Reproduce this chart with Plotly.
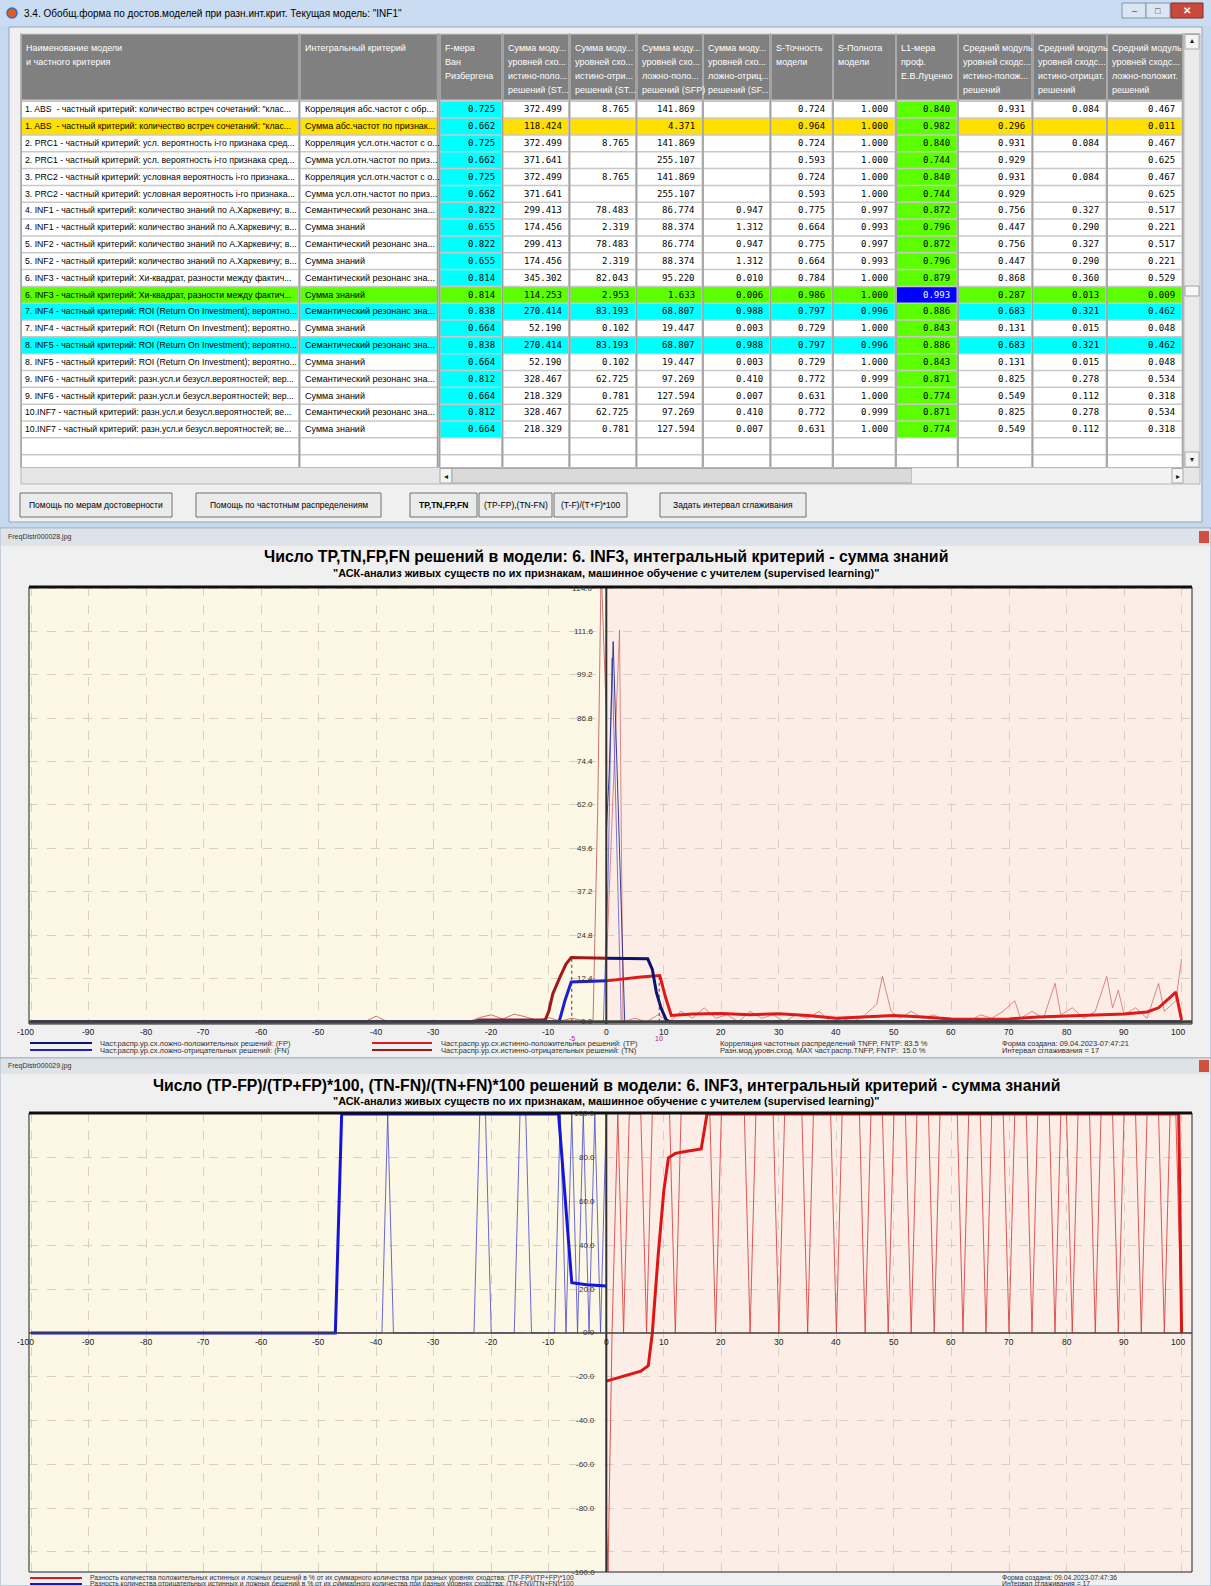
import plotly.graph_objects as go

W, H = 1211, 1586

# ---------------- TABLE DATA ----------------
window_title = '3.4. Обобщ.форма по достов.моделей при разн.инт.крит. Текущая модель: "INF1"'
col_headers = [
    ["Наименование модели", "и частного критерия"],
    ["Интегральный критерий"],
    ["F-мера", "Ван", "Ризбергена"],
    ["Сумма моду...", "уровней схо...", "истино-поло...", "решений (ST..."],
    ["Сумма моду...", "уровней схо...", "истино-отри...", "решений (ST..."],
    ["Сумма моду...", "уровней схо...", "ложно-поло...", "решений (SFP)"],
    ["Сумма моду...", "уровней схо...", "ложно-отриц...", "решений (SF..."],
    ["S-Точность", "модели"],
    ["S-Полнота", "модели"],
    ["L1-мера", "проф.", "Е.В.Луценко"],
    ["Средний модуль", "уровней сходс...", "истино-полож...", "решений"],
    ["Средний модуль", "уровней сходс...", "истино-отрицат.", "решений"],
    ["Средний модуль", "уровней сходс...", "ложно-положит.", "решений"],
]
model_names = [
    '1. ABS  - частный критерий: количество встреч сочетаний: "клас...',
    '1. ABS  - частный критерий: количество встреч сочетаний: "клас...',
    '2. PRC1 - частный критерий: усл. вероятность i-го признака сред...',
    '2. PRC1 - частный критерий: усл. вероятность i-го признака сред...',
    '3. PRC2 - частный критерий: условная вероятность i-го признака...',
    '3. PRC2 - частный критерий: условная вероятность i-го признака...',
    '4. INF1 - частный критерий: количество знаний по А.Харкевичу; в...',
    '4. INF1 - частный критерий: количество знаний по А.Харкевичу; в...',
    '5. INF2 - частный критерий: количество знаний по А.Харкевичу; в...',
    '5. INF2 - частный критерий: количество знаний по А.Харкевичу; в...',
    '6. INF3 - частный критерий: Хи-квадрат, разности между фактич...',
    '6. INF3 - частный критерий: Хи-квадрат, разности между фактич...',
    '7. INF4 - частный критерий: ROI (Return On Investment); вероятно...',
    '7. INF4 - частный критерий: ROI (Return On Investment); вероятно...',
    '8. INF5 - частный критерий: ROI (Return On Investment); вероятно...',
    '8. INF5 - частный критерий: ROI (Return On Investment); вероятно...',
    '9. INF6 - частный критерий: разн.усл.и безусл.вероятностей; вер...',
    '9. INF6 - частный критерий: разн.усл.и безусл.вероятностей; вер...',
    '10.INF7 - частный критерий: разн.усл.и безусл.вероятностей; ве...',
    '10.INF7 - частный критерий: разн.усл.и безусл.вероятностей; ве...',
]
criteria = [
    'Корреляция абс.частот с обр...', 'Сумма абс.частот по признак...',
    'Корреляция усл.отн.частот с о...', 'Сумма усл.отн.частот по приз...',
    'Корреляция усл.отн.частот с о...', 'Сумма усл.отн.частот по приз...',
    'Семантический резонанс зна...', 'Сумма знаний',
    'Семантический резонанс зна...', 'Сумма знаний',
    'Семантический резонанс зна...', 'Сумма знаний',
    'Семантический резонанс зна...', 'Сумма знаний',
    'Семантический резонанс зна...', 'Сумма знаний',
    'Семантический резонанс зна...', 'Сумма знаний',
    'Семантический резонанс зна...', 'Сумма знаний',
]
f_measure = [0.725, 0.662, 0.725, 0.662, 0.725, 0.662, 0.822, 0.655, 0.822, 0.655,
             0.814, 0.814, 0.838, 0.664, 0.838, 0.664, 0.812, 0.664, 0.812, 0.664]
sum_tp = [372.499, 118.424, 372.499, 371.641, 372.499, 371.641, 299.413, 174.456, 299.413, 174.456,
          345.302, 114.253, 270.414, 52.190, 270.414, 52.190, 328.467, 218.329, 328.467, 218.329]
sum_tn = [8.765, None, 8.765, None, 8.765, None, 78.483, 2.319, 78.483, 2.319,
          82.043, 2.953, 83.193, 0.102, 83.193, 0.102, 62.725, 0.781, 62.725, 0.781]
sum_fp = [141.869, 4.371, 141.869, 255.107, 141.869, 255.107, 86.774, 88.374, 86.774, 88.374,
          95.220, 1.633, 68.807, 19.447, 68.807, 19.447, 97.269, 127.594, 97.269, 127.594]
sum_fn = [None, None, None, None, None, None, 0.947, 1.312, 0.947, 1.312,
          0.010, 0.006, 0.988, 0.003, 0.988, 0.003, 0.410, 0.007, 0.410, 0.007]
s_precision = [0.724, 0.964, 0.724, 0.593, 0.724, 0.593, 0.775, 0.664, 0.775, 0.664,
               0.784, 0.986, 0.797, 0.729, 0.797, 0.729, 0.772, 0.631, 0.772, 0.631]
s_recall = [1.000, 1.000, 1.000, 1.000, 1.000, 1.000, 0.997, 0.993, 0.997, 0.993,
            1.000, 1.000, 0.996, 1.000, 0.996, 1.000, 0.999, 1.000, 0.999, 1.000]
l1_measure = [0.840, 0.982, 0.840, 0.744, 0.840, 0.744, 0.872, 0.796, 0.872, 0.796,
              0.879, 0.993, 0.886, 0.843, 0.886, 0.843, 0.871, 0.774, 0.871, 0.774]
mean_tp = [0.931, 0.296, 0.931, 0.929, 0.931, 0.929, 0.756, 0.447, 0.756, 0.447,
           0.868, 0.287, 0.683, 0.131, 0.683, 0.131, 0.825, 0.549, 0.825, 0.549]
mean_tn = [0.084, None, 0.084, None, 0.084, None, 0.327, 0.290, 0.327, 0.290,
           0.360, 0.013, 0.321, 0.015, 0.321, 0.015, 0.278, 0.112, 0.278, 0.112]
mean_fp = [0.467, 0.011, 0.467, 0.625, 0.467, 0.625, 0.517, 0.221, 0.517, 0.221,
           0.529, 0.009, 0.462, 0.048, 0.462, 0.048, 0.534, 0.318, 0.534, 0.318]
row_marks = ["", "yellow", "", "", "", "", "", "", "", "",
             "", "green", "cyan", "", "cyan", "", "", "", "", ""]
buttons = ["Помощь по мерам достоверности", "Помощь по частотным распределениям",
           "TP,TN,FP,FN", "(TP-FP),(TN-FN)", "(T-F)/(T+F)*100", "Задать интервал сглаживания"]

# ---------------- CHART 1 DATA ----------------
chart1_file = "FreqDistr000028.jpg"
chart1_title = "Число TP,TN,FP,FN решений в модели: 6. INF3, интегральный критерий - сумма знаний"
subtitle = '"АСК-анализ живых существ по их признакам, машинное обучение с учителем (supervised learning)"'
x_ticks = [-100, -90, -80, -70, -60, -50, -40, -30, -20, -10, 0, 10, 20, 30, 40, 50, 60, 70, 80, 90, 100]
c1_y_ticks = [0.0, 12.4, 24.8, 37.2, 49.6, 62.0, 74.4, 86.8, 99.2, 111.6, 124.0]

tn_raw_x = [-44, -42, -40, -38, -36, -24, -22, -20, -18, -16, -14, -12, -10, -8, -6, -4, -3, -2.3, -1.5, -0.9, 0]
tn_raw_y = [0, 0, 1.6, 0, 0, 0, 1.2, 2.0, 0.8, 2.2, 1.4, 0.4, 1.2, 0.2, 1.0, 0.3, 0.0, 0.5, 60, 130, 88]
tp_raw_x = [0, 1, 2.3, 2.9, 5, 7, 9, 11, 13, 15, 17, 19, 21, 23, 25, 27, 29, 31, 33, 35, 37, 39, 41, 43,
            45, 47, 48, 49.5, 51, 53, 55, 57, 59, 61, 63, 65, 67, 69, 71, 72, 74, 76, 78, 79, 81, 83,
            85, 87, 88, 89, 90, 92, 94, 96, 97, 99, 100]
tp_raw_y = [15.7, 60, 112, 0, 1, 0, 2, 0, 3, 1, 4, 1, 2, 0, 3, 1, 2, 0, 2, 1, 3, 0, 1, 0,
            2, 5, 13, 3, 1, 3, 1, 2, 0, 1, 0, 2, 1, 3, 6, 1, 3, 1, 11, 2, 4, 1,
            3, 13, 4, 9, 2, 4, 1, 11, 3, 6, 18]
fp_raw_x = [0, 0.5, 1.2, 3.2]
fp_raw_y = [54, 71, 108.7, 0]
fn_raw_x = [-0.5, 0.3, 1.0, 2.6]
fn_raw_y = [0, 40, 104, 0]

tn_smooth_x = [-100, -23, -22, -10.6, -10, -9.3, -8, -7, -6.1, 0]
tn_smooth_y = [0, 0, 0.5, 0.6, 3, 8, 13, 16.5, 18.4, 18.2]
fn_smooth_x = [-100, -8.2, -7.2, -6.1, 0]
fn_smooth_y = [0, 0, 6, 11.4, 11.7]
fp_smooth_x = [0, 7.2, 8.0, 8.7, 9.5, 10.4, 11, 100]
fp_smooth_y = [18.2, 18.0, 15, 8.5, 4, 0.6, 0, 0]
tp_smooth_x = [0, 3, 6, 9.3, 10.3, 11.3, 15, 20, 25, 30, 35, 40, 45, 50, 55, 60, 65, 70, 75, 80, 85,
               90, 94, 96, 98, 99, 100]
tp_smooth_y = [11.7, 12.3, 12.8, 13.2, 7, 1.8, 2.2, 2.4, 2.0, 2.3, 1.8, 1.0, 1.5, 1.8, 1.4, 0.8, 0.7,
               0.8, 1.4, 1.6, 1.8, 2.2, 2.8, 4, 7, 8.5, 0.5]
threshold_x = [-6, 9.2]
threshold_labels = ["-5", "10"]
threshold_top = [18.4, 13.2]

c1_legend_left = ["Част.распр.ур.сх.ложно-положительных решений: (FP)",
                  "Част.распр.ур.сх.ложно-отрицательных решений: (FN)"]
c1_legend_mid = ["Част.распр.ур.сх.истинно-положительных решений: (TP)",
                 "Част.распр.ур.сх.истинно-отрицательных решений: (TN)"]
c1_stats = ["Корреляция частотных распределений TNFP, FNTP: 83.5 %",
            "Разн.мод.уровн.сход. MAX част.распр.TNFP, FNTP:  15.0 %"]
c1_info = ["Форма создана: 09.04.2023-07:47:21", "Интервал сглаживания = 17"]

# ---------------- CHART 2 DATA ----------------
chart2_file = "FreqDistr000029.jpg"
chart2_title = "Число (TP-FP)/(TP+FP)*100, (TN-FN)/(TN+FN)*100 решений в модели: 6. INF3, интегральный критерий - сумма знаний"
c2_y_ticks = [100, 80, 60, 40, 20, 0, -20, -40, -60, -80]
c2_bottom_label = "-100.0"

tnfn_raw_x = [-100, -39, -38, -37, -23, -22, -21, -20, -16, -15, -14, -13, -9, -8, -7, -6, -5, -4, -3, -2, -1, 0]
tnfn_raw_y = [0, 0, 100, 0, 0, 100, 100, 0, 0, 100, 100, 0, 0, 100, 0, 100, 0, 100, 0, 100, 0, 100]
tnfn_smooth_x = [-100, -47.1, -46, -8.3, -6.0, -3.4, 0]
tnfn_smooth_y = [0, 0, 100, 100, 22.9, 22, 21.4]
tpfp_raw_x = [0, 0.3, 1, 2, 3, 4, 6, 7, 8, 11, 12, 13, 18, 19, 20, 24, 25, 26, 29, 30, 31, 34, 35, 36,
              39, 40, 41, 44, 45, 46, 48, 49, 50, 52, 53, 54, 56, 57, 58, 61, 62, 63, 65, 66, 67, 69, 70, 71,
              73, 74, 75, 77, 78, 79, 80, 81, 82, 84, 85, 86, 88, 89, 90, 92, 93, 94, 96, 97, 98, 99, 100]
tpfp_raw_y = [-85, -109, 0, 100, 0, 100, 100, 0, 100, 100, 0, 100, 100, 0, 100, 100, 0, 100, 100, 0, 100, 100, 0, 100,
              100, 0, 100, 100, 0, 100, 100, 0, 100, 100, 0, 100, 100, 0, 100, 100, 0, 100, 100, 0, 100, 100, 0, 100,
              100, 0, 100, 100, 0, 100, 100, 0, 100, 100, 0, 100, 100, 0, 100, 100, 0, 100, 100, 0, 100, 100, 0]
tpfp_smooth_x = [0, 2, 4, 6, 7.3, 8, 9, 10, 10.8, 12, 14, 16.5, 17.5, 99.5, 100]
tpfp_smooth_y = [-22, -20.5, -19, -17.5, -15, 0, 35, 65, 80, 82, 83, 84, 100, 100, 0]

c2_legend = ["Разность количества положительных истинных и ложных решений в % от их суммарного количества при разных уровнях сходства: (TP-FP)/(TP+FP)*100",
             "Разность количества отрицательных истинных и ложных решений в % от их суммарного количества при разных уровнях сходства: (TN-FN)/(TN+FN)*100"]
c2_info = ["Форма создана: 09.04.2023-07:47:36", "Интервал сглаживания = 17"]

# ---------------- HELPERS ----------------
shapes = []
annots = []
SANS = "Liberation Sans, Arial, sans-serif"
MONO = "DejaVu Sans Mono, monospace"


def fx(x):
    return x / W


def fy(y):
    return 1 - y / H


def rect(x0, y0, x1, y1, fill, line=None, lw=0):
    shapes.append(dict(type="rect", xref="paper", yref="paper", x0=fx(x0), x1=fx(x1),
                       y0=fy(y1), y1=fy(y0), fillcolor=fill,
                       line=dict(color=line if line else fill, width=lw), layer="below"))


def seg(x0, y0, x1, y1, color, lw=1, dash="solid"):
    shapes.append(dict(type="line", xref="paper", yref="paper", x0=fx(x0), x1=fx(x1),
                       y0=fy(y0), y1=fy(y1), line=dict(color=color, width=lw, dash=dash), layer="below"))


def text(x, y, s, size=9, color="black", anchor="left", family=SANS, bold=False):
    if bold:
        s = "<b>" + s + "</b>"
    annots.append(dict(xref="paper", yref="paper", x=fx(x), y=fy(y), text=s, showarrow=False,
                       xanchor=anchor, yanchor="middle", font=dict(size=size, color=color, family=family)))


# ---------------- WINDOW 1 (table dialog) ----------------
rect(0, 0, W, 528, "#C5D8EE")
rect(0, 0, W, 26, "#C9DCF1")
rect(9, 27, 1202, 522, "#F0F0F0", "#8EA6C2", 1)
shapes.append(dict(type="circle", xref="paper", yref="paper", x0=fx(7), x1=fx(17), y0=fy(18), y1=fy(8),
                   fillcolor="#E25C1A", line=dict(color="#2A6FD0", width=1.5), layer="below"))
text(22, 13, window_title, size=10)
rect(1122, 3, 1146, 18, "#DCE6F2", "#8094B0", 1)
rect(1146, 3, 1170, 18, "#DCE6F2", "#8094B0", 1)
rect(1171, 3, 1203, 18, "#C94A3C", "#8A2A20", 1)
text(1134, 11, "–", size=9, color="#404040", anchor="center")
text(1158, 11, "□", size=9, color="#404040", anchor="center")
text(1187, 11, "✕", size=10, color="white", anchor="center", bold=True)

col_edges = [21, 299.5, 439.5, 502.5, 569.5, 636.5, 703, 770.5, 833, 896, 958, 1032.5, 1107, 1183]
header_top, header_bot = 33.5, 100.5
row_top0, row_h = 101.0, 16.83
n_rows = len(model_names)
table_bottom = 467.5

rect(col_edges[0], header_top, col_edges[-1], table_bottom, "#C8C8C8")
for j in range(len(col_edges) - 1):
    x0, x1 = col_edges[j], col_edges[j + 1]
    rect(x0 + 1, header_top + 1, x1 - 1, header_bot - 1, "#808080")
    for k, line in enumerate(col_headers[j]):
        text(x0 + 3, 47.5 + k * 14.2, line, size=9.0, color="white")

colors = {"": "#FFFFFF", "yellow": "#FFE000", "green": "#5CFF00", "cyan": "#00FFFF"}
num_cols = [f_measure, sum_tp, sum_tn, sum_fp, sum_fn, s_precision, s_recall, l1_measure,
            mean_tp, mean_tn, mean_fp]
for i in range(n_rows):
    top = row_top0 + i * row_h
    bot = top + row_h
    yc = top + row_h / 2
    base = colors[row_marks[i]]
    for j in range(len(col_edges) - 1):
        x0, x1 = col_edges[j], col_edges[j + 1]
        fill = base
        tcol = "black"
        if j == 2:
            fill = colors["green"] if row_marks[i] == "green" else colors["cyan"]
        if j == 9:
            if row_marks[i] == "green":
                fill, tcol = "#0000FF", "white"
            else:
                fill = colors["green"]
        rect(x0 + 1, top + 1, x1 - 1.5, bot - 0.5, fill)
        if j == 0:
            text(x0 + 2, yc, model_names[i], size=8.7)
        elif j == 1:
            text(x0 + 3, yc, criteria[i], size=9.0)
        else:
            v = num_cols[j - 2][i]
            if v is not None:
                text(x1 - 6, yc, f"{v:.3f}", size=9, family=MONO, color=tcol, anchor="right")
for i in range(n_rows, n_rows + 2):
    top = row_top0 + i * row_h
    bot = min(top + row_h, table_bottom)
    for j in range(len(col_edges) - 1):
        rect(col_edges[j] + 1, top + 1, col_edges[j + 1] - 1.5, bot - 0.5, "#FFFFFF")
for j, e in enumerate(col_edges):
    seg(e, header_top, e, table_bottom, "#A0A0A0", 1.5)
seg(437.5, header_top, 437.5, table_bottom, "#A0A0A0", 1.5)

# horizontal scrollbar
rect(21, 467.5, 1200, 484, "#E6E6E6", "#B8B8B8", 1)
rect(440, 468.5, 452, 483, "#F4F4F4", "#A8A8A8", 1)
text(446, 476, "◂", size=8, color="#202020", anchor="center")
rect(452, 468.5, 912, 483, "#DADADA", "#A8A8A8", 1)
rect(912, 468.5, 1172, 483, "#F2F2F2")
rect(1172, 468.5, 1183, 483, "#F4F4F4", "#A8A8A8", 1)
text(1178, 476, "▸", size=8, color="#202020", anchor="center")
# vertical scrollbar
rect(1184, header_top, 1200, 467.5, "#EAEAEA", "#B8B8B8", 1)
rect(1185, header_top + 1, 1199, 49, "#F4F4F4", "#A8A8A8", 1)
text(1192, 41, "▴", size=8, color="#202020", anchor="center")
rect(1185, 452, 1199, 467, "#F4F4F4", "#A8A8A8", 1)
text(1192, 459, "▾", size=8, color="#202020", anchor="center")
rect(1185, 286, 1199, 296, "#F8F8F8", "#A0A0A0", 1)

# buttons
btn_x = [(20, 172), (196, 381), (410, 477), (479, 552), (554, 627), (660, 806)]
for (b0, b1), label in zip(btn_x, buttons):
    rect(b0, 493, b1, 517, "#EBEBEB", "#707070", 1)
    text((b0 + b1) / 2, 505, label, size=8.5, anchor="center", bold=(label == "TP,TN,FP,FN"))

# ---------------- CHART WINDOWS ----------------
rect(0, 528, W, 1058, "#F0F0F0", "#9AAAC0", 1)
rect(1, 529, W - 1, 546, "#DEE3EA")
text(6, 537, chart1_file, size=7, color="#303030")
rect(1199, 531, 1209, 543, "#D05040")
rect(0, 1058, W, H, "#F0F0F0", "#9AAAC0", 1)
rect(1, 1059, W - 1, 1074, "#DEE3EA")
text(6, 1066, chart2_file, size=7, color="#303030")
rect(1199, 1060, 1209, 1072, "#D05040")

text(606, 556, chart1_title, size=15.9, anchor="center", bold=True)
text(606, 573, subtitle, size=10.9, anchor="center", bold=True)
text(606, 1085, chart2_title, size=15.8, anchor="center", bold=True)
text(606, 1101, subtitle, size=10.9, anchor="center", bold=True)

# plot geometry
PX0, PX1 = 29, 1192
XR = [-100.35, 101.81]
C1Y0, C1Y1 = 587, 1024
C1R = [-0.63, 124.29]
C2Y0, C2Y1 = 1113, 1572
C2R = [-109.2, 100.45]

fig = go.Figure()

for ax, ya in (("x", "y"), ("x2", "y2")):
    shapes.append(dict(type="rect", xref=ax, yref=ya + " domain", x0=XR[0], x1=0, y0=0, y1=1,
                       fillcolor="#FDF7E6", line=dict(width=0), layer="below"))
    shapes.append(dict(type="rect", xref=ax, yref=ya + " domain", x0=0, x1=XR[1], y0=0, y1=1,
                       fillcolor="#FCEEE6", line=dict(width=0), layer="below"))


def add_line(xs, ys, color, width, xa, ya):
    fig.add_trace(go.Scatter(x=xs, y=ys, mode="lines", line=dict(color=color, width=width),
                             xaxis=xa, yaxis=ya, hoverinfo="skip", showlegend=False))


add_line(tn_raw_x, tn_raw_y, "rgba(190,70,70,0.75)", 1, "x", "y")
add_line(tp_raw_x, tp_raw_y, "rgba(205,90,90,0.7)", 1, "x", "y")
add_line(fn_raw_x, fn_raw_y, "rgba(90,90,220,0.8)", 1, "x", "y")
add_line(fp_raw_x, fp_raw_y, "rgba(40,40,140,0.9)", 1, "x", "y")
add_line(tn_smooth_x, tn_smooth_y, "#A01818", 3, "x", "y")
add_line(fn_smooth_x, fn_smooth_y, "#1F1FD0", 3, "x", "y")
add_line(tp_smooth_x, tp_smooth_y, "#DD1A1A", 3, "x", "y")
add_line(fp_smooth_x, fp_smooth_y, "#10106E", 3, "x", "y")

add_line(tnfn_raw_x, tnfn_raw_y, "rgba(70,70,200,0.8)", 1, "x2", "y2")
add_line(tpfp_raw_x, tpfp_raw_y, "rgba(215,60,60,0.85)", 1, "x2", "y2")
add_line(tnfn_smooth_x, tnfn_smooth_y, "#1515D8", 3, "x2", "y2")
add_line(tpfp_smooth_x, tpfp_smooth_y, "#DD1515", 3, "x2", "y2")

for ax, ya in (("x", "y"), ("x2", "y2")):
    shapes.append(dict(type="line", xref=ax, yref=ya + " domain", x0=0, x1=0, y0=0, y1=1,
                       line=dict(color="#303030", width=2), layer="above"))
    shapes.append(dict(type="rect", xref=ax + " domain", yref=ya + " domain", x0=0, x1=1, y0=0, y1=1,
                       line=dict(color="#202020", width=1), fillcolor="rgba(0,0,0,0)", layer="above"))
    shapes.append(dict(type="line", xref=ax + " domain", yref=ya + " domain", x0=0, x1=1, y0=1, y1=1,
                       line=dict(color="#101010", width=3), layer="above"))
shapes.append(dict(type="line", xref="x domain", yref="y", x0=0, x1=1, y0=0, y1=0,
                   line=dict(color="#404040", width=3), layer="above"))
shapes.append(dict(type="line", xref="x2 domain", yref="y2", x0=0, x1=1, y0=0, y1=0,
                   line=dict(color="#404040", width=1.5), layer="above"))
for tx, tl, tt in zip(threshold_x, threshold_labels, threshold_top):
    shapes.append(dict(type="line", xref="x", yref="y", x0=tx, x1=tx, y0=0, y1=tt,
                       line=dict(color="#404040", width=1, dash="dot"), layer="above"))
    annots.append(dict(xref="x", yref="paper", x=tx, y=fy(1038), text=tl, showarrow=False,
                       font=dict(size=7, color="#B0208A", family=SANS)))


def xlab_shift(t):
    if t == x_ticks[0]:
        return -6
    if t == x_ticks[-1]:
        return -4
    return 0


for t in x_ticks:
    annots.append(dict(xref="x", yref="paper", x=t, y=fy(1025), yanchor="top", xshift=xlab_shift(t),
                       text=str(t), showarrow=False, font=dict(size=8.5, color="#202020", family=SANS)))
    annots.append(dict(xref="x2", yref="y2", x=t, y=0, yanchor="top", yshift=-2, xshift=xlab_shift(t),
                       text=str(t), showarrow=False, font=dict(size=8.5, color="#202020", family=SANS)))
for t in c1_y_ticks:
    annots.append(dict(xref="x", yref="y", x=0, y=t, xanchor="right", xshift=-11, text=f"{t:.1f}",
                       showarrow=False, font=dict(size=8, color="#303030", family=SANS)))
for t in c2_y_ticks:
    annots.append(dict(xref="x2", yref="y2", x=0, y=t, xanchor="right", xshift=-9, text=f"{t:.1f}",
                       showarrow=False, font=dict(size=8, color="#303030", family=SANS)))
annots.append(dict(xref="x2", yref="y2 domain", x=0, y=0, xanchor="right", yanchor="middle", xshift=-9,
                   text=c2_bottom_label, showarrow=False, font=dict(size=8, color="#303030", family=SANS)))

leg_rows = [1043, 1050]
seg(30, leg_rows[0], 92, leg_rows[0], "#10106E", 2)
seg(30, leg_rows[1], 92, leg_rows[1], "#1F1FD0", 2)
seg(372, leg_rows[0], 432, leg_rows[0], "#DD1A1A", 2)
seg(372, leg_rows[1], 432, leg_rows[1], "#A01818", 2)
for k in range(2):
    text(98, leg_rows[k], c1_legend_left[k], size=7.5, color="#303030")
    text(439, leg_rows[k], c1_legend_mid[k], size=7.5, color="#303030")
    text(718, leg_rows[k], c1_stats[k], size=7.5, color="#303030")
    text(1000, leg_rows[k], c1_info[k], size=7.5, color="#303030")
leg2_rows = [1578, 1584]
seg(30, leg2_rows[0], 82, leg2_rows[0], "#DD1515", 2)
seg(30, leg2_rows[1], 82, leg2_rows[1], "#1515D8", 2)
for k in range(2):
    text(88, leg2_rows[k], c2_legend[k], size=6.8, color="#303030")
    text(1000, leg2_rows[k], c2_info[k], size=6.8, color="#303030")

grid = dict(showgrid=True, gridcolor="#D8D0C2", griddash="dash", gridwidth=1, zeroline=False,
            showline=False, showticklabels=False, ticks="", fixedrange=True)
fig.update_layout(
    width=W, height=H, margin=dict(l=0, r=0, t=0, b=0),
    paper_bgcolor="#FFFFFF", plot_bgcolor="rgba(0,0,0,0)",
    xaxis=dict(domain=[fx(PX0), fx(PX1)], range=XR, tickvals=x_ticks, anchor="y", **grid),
    yaxis=dict(domain=[fy(C1Y1), fy(C1Y0)], range=C1R, tickvals=c1_y_ticks, anchor="x", **grid),
    xaxis2=dict(domain=[fx(PX0), fx(PX1)], range=XR, tickvals=x_ticks, anchor="y2", **grid),
    yaxis2=dict(domain=[fy(C2Y1), fy(C2Y0)], range=C2R, tickvals=c2_y_ticks + [-100], anchor="x2", **grid),
    shapes=shapes, annotations=annots, showlegend=False,
)
fig.write_html("out.html", config={"displayModeBar": False},
               post_script="document.body.style.margin='0';document.body.style.overflow='hidden';")
